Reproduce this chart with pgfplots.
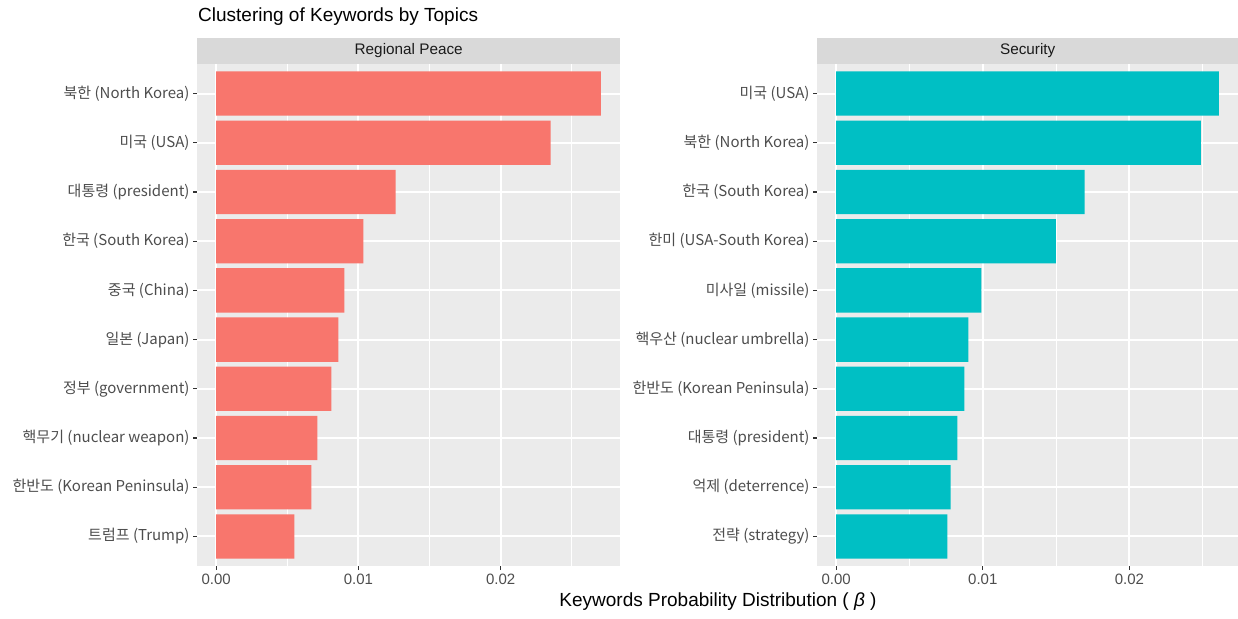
\documentclass[border=0pt]{standalone}
\usepackage{pgfplots}
\pgfplotsset{compat=1.18}
\usepackage{fontspec}
\setmainfont{Liberation Sans}
\newfontfamily\cjk{Noto Sans CJK KR}
\definecolor{panel}{HTML}{EBEBEB}
\definecolor{stripfill}{HTML}{D9D9D9}
\definecolor{tickc}{HTML}{333333}
\definecolor{labc}{HTML}{4D4D4D}
\definecolor{stript}{HTML}{1A1A1A}
\definecolor{red1}{HTML}{F8766D}
\definecolor{cyan1}{HTML}{00BFC4}
\pgfplotsset{
  facet/.style={
    scale only axis, height=502pt,
    ymin=0.4, ymax=10.6, y dir=reverse,
    ytick={1,2,3,4,5,6,7,8,9,10},
    xtick={0,0.01,0.02}, minor xtick={0.005,0.015,0.025},
    scaled x ticks=false,
    xticklabel style={/pgf/number format/fixed, /pgf/number format/fixed zerofill, /pgf/number format/precision=2, /pgf/number format/assume math mode=true},
    tick label style={text=labc},
    xticklabel style={font=\fontsize{15}{18}\selectfont},
    yticklabel style={font=\cjk\fontsize{15}{18}\selectfont},
    axis background/.style={fill=panel},
    axis line style={draw=none},
    xmajorgrids, xminorgrids, ymajorgrids,
    major grid style={white, line width=2pt},
    minor grid style={white, line width=1pt},
    tick align=outside, tick pos=left,
    major tick length=4pt, minor tick length=0pt,
    tick style={tickc, line width=1.2pt},
  }
}
\tikzset{stripbox/.style={fill=stripfill, minimum height=26pt, inner sep=0pt, text=stript, font=\fontsize{15.3}{18}\selectfont, anchor=south west}}
\begin{document}
\begin{tikzpicture}
\path[use as bounding box] (0,0) rectangle (1238pt,618pt);
\begin{axis}[facet, at={(197pt,52pt)}, anchor=south west, width=423pt,
  xmin=-0.00135, xmax=0.02839,
  yticklabels={북한 (North Korea), 미국 (USA), 대통령 (president), 한국 (South Korea), 중국 (China), 일본 (Japan), 정부 (government), 핵무기 (nuclear weapon), 한반도 (Korean Peninsula), 트럼프 (Trump)}]
\addplot[xbar, fill=red1, draw=none, bar width=0.9] coordinates {
(0.02704,1) (0.02352,2) (0.01261,3) (0.01035,4) (0.00901,5) (0.00859,6) (0.00810,7) (0.00711,8) (0.00669,9) (0.00549,10)};
\end{axis}
\begin{axis}[facet, at={(817pt,52pt)}, anchor=south west, width=421pt,
  xmin=-0.001305, xmax=0.027405,
  yticklabels={미국 (USA), 북한 (North Korea), 한국 (South Korea), 한미 (USA-South Korea), 미사일 (missile), 핵우산 (nuclear umbrella), 한반도 (Korean Peninsula), 대통령 (president), 억제 (deterrence), 전략 (strategy)}]
\addplot[xbar, fill=cyan1, draw=none, bar width=0.9] coordinates {
(0.02610,1) (0.02488,2) (0.01695,3) (0.01498,4) (0.00990,5) (0.00902,6) (0.00875,7) (0.00827,8) (0.00780,9) (0.00759,10)};
\end{axis}
\node[stripbox, minimum width=423pt] at (197pt,554pt) {Regional Peace};
\node[stripbox, minimum width=421pt] at (817pt,554pt) {Security};
\node[anchor=west, inner sep=0pt, font=\fontsize{19}{22}\selectfont] at (198pt,601pt) {Clustering of Keywords by Topics};
\node[inner sep=0pt, font=\fontsize{19}{22}\selectfont] at (718pt,16pt) {Keywords Probability Distribution ( \textit{β} )};
\end{tikzpicture}
\end{document}
